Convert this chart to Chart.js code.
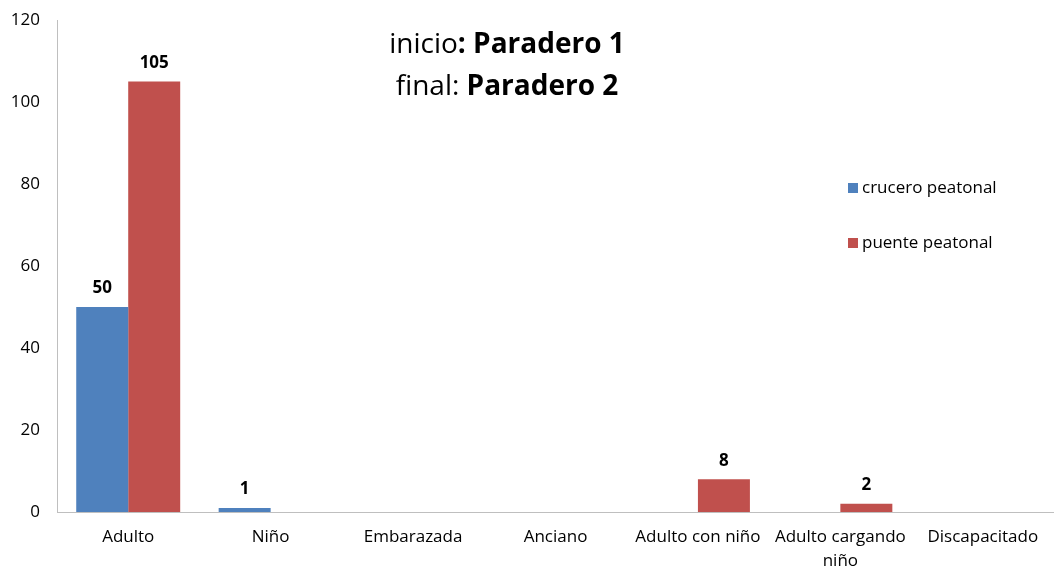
<!DOCTYPE html>
<html>
<head>
    <meta charset="utf-8">
    <title>inicio: Paradero 1 - final: Paradero 2</title>
    <script src="https://cdn.jsdelivr.net/npm/chart.js"></script>
    <style>
        html, body {
            margin: 0;
            padding: 0;
            background-color: #ffffff;
        }
        .chart-container {
            width: 1054px;
            height: 568px;
        }
    </style>
</head>
<body>
    <div class="chart-container">
        <canvas id="chart1"></canvas>
    </div>

    <script>
        // Data
        const categories = ['Adulto', 'Niño', 'Embarazada', 'Anciano', 'Adulto con niño', ['Adulto cargando', 'niño'], 'Discapacitado'];
        const cruceroValues = [50, 1, 0, 0, 0, 0, 0];
        const puenteValues = [105, 0, 0, 0, 8, 2, 0];
        const seriesNames = ['crucero peatonal', 'puente peatonal'];
        const yTicks = [0, 20, 40, 60, 80, 100, 120];

        const FONT = '"Open Sans", Lato, sans-serif';
        const BLUE = '#4f81bd';
        const RED = '#c0504d';

        // Bold value labels above the non-zero bars
        const valueLabels = {
            id: 'valueLabels',
            afterDatasetsDraw(chart) {
                const ctx = chart.ctx;
                ctx.save();
                ctx.font = 'bold 17px ' + FONT;
                ctx.fillStyle = '#000';
                ctx.textAlign = 'center';
                ctx.textBaseline = 'bottom';
                chart.data.datasets.forEach((ds, i) => {
                    chart.getDatasetMeta(i).data.forEach((bar, j) => {
                        if (ds.data[j] > 0) {
                            ctx.fillText(ds.data[j], bar.x, bar.y - 10);
                        }
                    });
                });
                ctx.restore();
            }
        };

        // Two-line title inside the plot, part regular and part bold
        const innerTitle = {
            id: 'innerTitle',
            afterDraw(chart) {
                const ctx = chart.ctx;
                const lines = [['inicio', ': Paradero 1'], ['final: ', 'Paradero 2']];
                const cx = 507;
                const ys = [45, 87];
                ctx.save();
                ctx.textBaseline = 'middle';
                ctx.fillStyle = '#000';
                lines.forEach((parts, k) => {
                    ctx.font = '28px ' + FONT;
                    const w1 = ctx.measureText(parts[0]).width;
                    ctx.font = 'bold 28px ' + FONT;
                    const w2 = ctx.measureText(parts[1]).width;
                    let x = cx - (w1 + w2) / 2;
                    ctx.textAlign = 'left';
                    ctx.font = '28px ' + FONT;
                    ctx.fillText(parts[0], x, ys[k]);
                    ctx.font = 'bold 28px ' + FONT;
                    ctx.fillText(parts[1], x + w1, ys[k]);
                });
                ctx.restore();
            }
        };

        // Legend sitting on the right inside the plot
        const innerLegend = {
            id: 'innerLegend',
            afterDraw(chart) {
                const ctx = chart.ctx;
                ctx.save();
                ctx.font = '17px ' + FONT;
                ctx.textBaseline = 'middle';
                ctx.textAlign = 'left';
                chart.data.datasets.forEach((ds, i) => {
                    const y = 188 + i * 55;
                    ctx.fillStyle = ds.backgroundColor;
                    ctx.fillRect(848, y - 5, 10, 10);
                    ctx.fillStyle = '#000';
                    ctx.fillText(ds.label, 862, y);
                });
                ctx.restore();
            }
        };

        const ctx1 = document.getElementById('chart1').getContext('2d');
        const chart1 = new Chart(ctx1, {
            type: 'bar',
            data: {
                labels: categories,
                datasets: [{
                    label: seriesNames[0],
                    data: cruceroValues,
                    backgroundColor: BLUE,
                    borderWidth: 0
                }, {
                    label: seriesNames[1],
                    data: puenteValues,
                    backgroundColor: RED,
                    borderWidth: 0
                }]
            },
            options: {
                responsive: true,
                maintainAspectRatio: false,
                animation: false,
                layout: { padding: { top: 20, right: 0, left: 0, bottom: 0 } },
                datasets: {
                    bar: { categoryPercentage: 0.73, barPercentage: 1 }
                },
                scales: {
                    x: {
                        grid: { display: false },
                        border: { color: '#bfbfbf', width: 1 },
                        ticks: {
                            color: '#000',
                            font: { family: FONT, size: 17, lineHeight: 1.4 },
                            maxRotation: 0,
                            autoSkip: false,
                            padding: 5
                        },
                        afterFit(scale) { scale.height = 56; }
                    },
                    y: {
                        min: 0,
                        max: 120,
                        grid: { display: false },
                        border: { color: '#bfbfbf', width: 1 },
                        afterBuildTicks(scale) {
                            scale.ticks = yTicks.map(v => ({ value: v }));
                        },
                        ticks: {
                            color: '#000',
                            font: { family: FONT, size: 17 },
                            padding: 9
                        },
                        afterFit(scale) { scale.width = 57; }
                    }
                },
                plugins: {
                    legend: { display: false },
                    tooltip: { enabled: false }
                }
            },
            plugins: [valueLabels, innerTitle, innerLegend]
        });
    </script>
</body>
</html>
